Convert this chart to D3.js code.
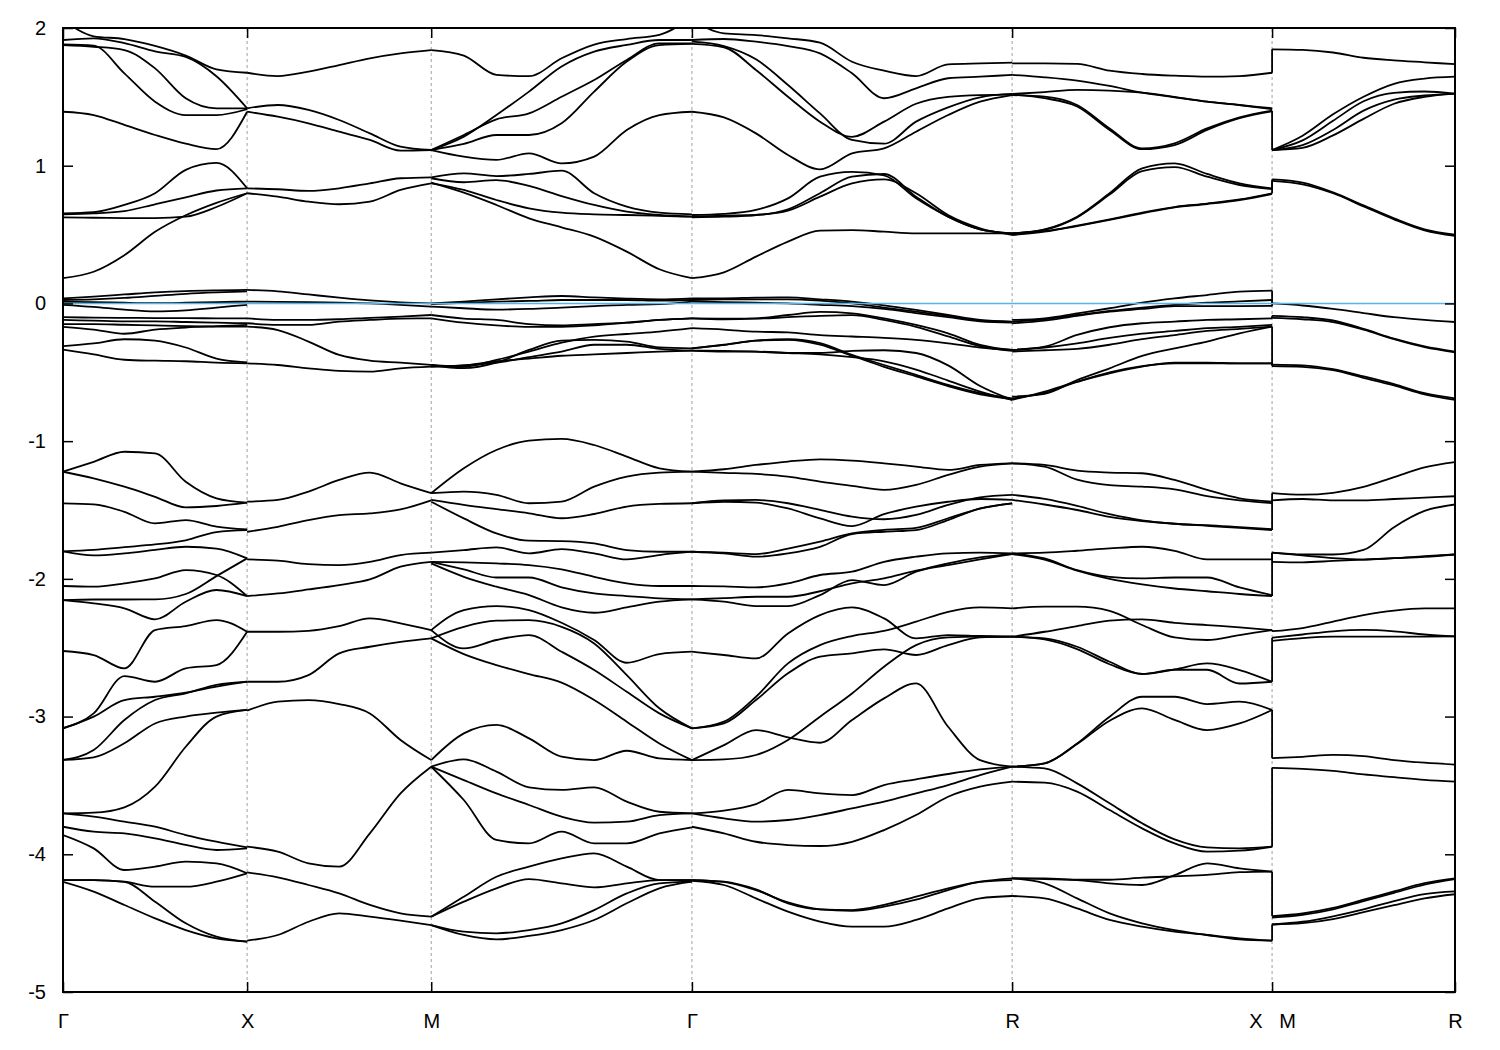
<!DOCTYPE html>
<html><head><meta charset="utf-8">
<script src="https://cdn.jsdelivr.net/npm/d3@7"></script>
<style>
body{margin:0;background:#fff}
svg text{font-family:"Liberation Sans",Arial,sans-serif;fill:#000}
</style>
</head><body>
<svg id="chart" width="1500" height="1050"></svg>
<script>
// k-path: cumulative distances of high-symmetry points (units of Γ–X)
const kNodes  = [0, 1, 2, 3.416, 5.155, 6.567, 7.5605];
const kLabels = ["Γ", "X", "M", "Γ", "R", "X\u00a0\u00a0\u00a0M", "R"];
const yTicks  = [-5, -4, -3, -2, -1, 0, 1, 2];
const fermiLevel = 0;

// Γ → X (7 evenly spaced samples per band)
const bandsGX = [
 [2.06,1.94,1.92,1.87,1.80,1.70,1.675],
 [1.913,1.925,1.89,1.83,1.79,1.65,1.417],
 [1.881,1.872,1.671,1.465,1.368,1.368,1.41],
 [1.876,1.864,1.84,1.707,1.49,1.417,1.417],
 [1.392,1.368,1.296,1.223,1.16,1.12,1.392],
 [0.654,0.662,0.715,0.80,0.97,1.02,0.836],
 [0.647,0.654,0.67,0.72,0.77,0.82,0.836],
 [0.625,0.622,0.62,0.62,0.63,0.70,0.80],
 [0.183,0.23,0.35,0.52,0.64,0.73,0.80],
 [0.037,0.05,0.065,0.08,0.09,0.095,0.098],
 [0.025,0.03,0.04,0.055,0.07,0.08,0.087],
 [0.012,0.01,0.005,0.002,0.005,0.01,0.013],
 [-0.01,-0.025,-0.045,-0.058,-0.05,-0.03,-0.01],
 [-0.10,-0.103,-0.105,-0.106,-0.107,-0.108,-0.108],
 [-0.12,-0.125,-0.13,-0.13,-0.135,-0.14,-0.144],
 [-0.17,-0.19,-0.22,-0.19,-0.175,-0.165,-0.156],
 [-0.15,-0.15,-0.155,-0.16,-0.165,-0.168,-0.168],
 [-0.31,-0.29,-0.26,-0.27,-0.32,-0.40,-0.428],
 [-0.336,-0.37,-0.409,-0.416,-0.42,-0.43,-0.435],
 [-1.222,-1.15,-1.077,-1.089,-1.295,-1.415,-1.447],
 [-1.222,-1.27,-1.331,-1.404,-1.481,-1.471,-1.447],
 [-1.452,-1.459,-1.513,-1.597,-1.573,-1.62,-1.641],
 [-1.80,-1.83,-1.815,-1.79,-1.767,-1.78,-1.851],
 [-1.80,-1.79,-1.77,-1.75,-1.72,-1.66,-1.646],
 [-2.052,-2.057,-2.033,-1.997,-1.936,-1.972,-2.125],
 [-2.154,-2.15,-2.15,-2.149,-2.11,-1.98,-1.851],
 [-2.154,-2.178,-2.214,-2.294,-2.166,-2.081,-2.125],
 [-2.524,-2.553,-2.65,-2.372,-2.343,-2.299,-2.384],
 [-3.085,-2.977,-2.706,-2.747,-2.65,-2.626,-2.384],
 [-3.085,-3.0,-2.88,-2.856,-2.827,-2.783,-2.747],
 [-3.315,-3.243,-3.025,-2.88,-2.831,-2.77,-2.747],
 [-3.315,-3.296,-3.194,-3.05,-3.0,-2.972,-2.952],
 [-3.703,-3.698,-3.659,-3.509,-3.219,-3.0,-2.952],
 [-3.80,-3.836,-3.848,-3.884,-3.932,-3.969,-3.957],
 [-3.703,-3.727,-3.763,-3.80,-3.86,-3.908,-3.95],
 [-3.86,-3.957,-4.114,-4.09,-4.054,-4.066,-4.138],
 [-4.187,-4.187,-4.199,-4.235,-4.235,-4.199,-4.138],
 [-4.187,-4.187,-4.2,-4.344,-4.501,-4.598,-4.634],
 [-4.2,-4.271,-4.368,-4.465,-4.55,-4.61,-4.634]
];

// X → M (7 samples)
const bandsXM = [
 [1.675,1.651,1.683,1.731,1.78,1.816,1.84],
 [1.417,1.441,1.405,1.332,1.235,1.138,1.114],
 [1.392,1.356,1.308,1.247,1.187,1.109,1.114],
 [0.836,0.829,0.817,0.836,0.872,0.909,0.916],
 [0.80,0.775,0.739,0.72,0.739,0.824,0.872],
 [0.098,0.088,0.065,0.042,0.022,0.008,0.0],
 [0.013,0.012,0.01,0.005,0.0,-0.01,-0.023],
 [-0.108,-0.12,-0.12,-0.115,-0.105,-0.096,-0.084],
 [-0.144,-0.156,-0.156,-0.132,-0.12,-0.11,-0.108],
 [-0.168,-0.193,-0.277,-0.374,-0.415,-0.43,-0.447],
 [-0.435,-0.447,-0.471,-0.49,-0.495,-0.471,-0.459],
 [-1.439,-1.427,-1.366,-1.282,-1.228,-1.306,-1.378],
 [-1.658,-1.622,-1.573,-1.537,-1.525,-1.496,-1.43],
 [-1.859,-1.868,-1.893,-1.90,-1.876,-1.827,-1.81],
 [-2.125,-2.106,-2.077,-2.045,-2.004,-1.912,-1.876],
 [-2.384,-2.384,-2.377,-2.343,-2.287,-2.323,-2.372],
 [-2.747,-2.747,-2.699,-2.541,-2.493,-2.457,-2.432],
 [-2.957,-2.892,-2.88,-2.909,-2.977,-3.17,-3.316],
 [-3.945,-3.981,-4.066,-4.09,-3.848,-3.558,-3.364],
 [-4.131,-4.167,-4.223,-4.284,-4.368,-4.429,-4.453],
 [-4.627,-4.586,-4.49,-4.429,-4.453,-4.482,-4.514]
];

// M → Γ (9 samples)
const bandsMG = [
 [1.84,1.80,1.66,1.65,1.78,1.88,1.92,1.95,2.08],
 [1.114,1.211,1.368,1.538,1.72,1.828,1.877,1.913,1.913],
 [1.114,1.223,1.337,1.38,1.501,1.622,1.768,1.889,1.889],
 [1.114,1.158,1.223,1.223,1.308,1.538,1.756,1.876,1.884],
 [1.114,1.066,1.042,1.09,1.017,1.066,1.26,1.368,1.392],
 [0.916,0.945,0.925,0.94,0.964,0.80,0.703,0.659,0.647],
 [0.909,0.88,0.896,0.853,0.78,0.715,0.666,0.642,0.63],
 [0.872,0.824,0.751,0.691,0.659,0.647,0.642,0.636,0.63],
 [0.877,0.804,0.715,0.618,0.553,0.485,0.376,0.248,0.183],
 [0.0,0.013,0.03,0.044,0.054,0.044,0.035,0.03,0.037],
 [-0.004,0.004,0.013,0.018,0.025,0.025,0.025,0.02,0.025],
 [-0.023,-0.035,-0.045,-0.04,-0.03,-0.02,-0.01,-0.005,0.013],
 [-0.084,-0.11,-0.12,-0.15,-0.16,-0.15,-0.14,-0.12,-0.108],
 [-0.108,-0.14,-0.16,-0.17,-0.17,-0.16,-0.14,-0.12,-0.108],
 [-0.447,-0.47,-0.43,-0.338,-0.27,-0.265,-0.277,-0.319,-0.326],
 [-0.447,-0.46,-0.41,-0.35,-0.285,-0.241,-0.222,-0.205,-0.18],
 [-0.459,-0.45,-0.43,-0.39,-0.35,-0.30,-0.30,-0.33,-0.343],
 [-0.459,-0.45,-0.42,-0.40,-0.38,-0.37,-0.36,-0.35,-0.343],
 [-1.378,-1.197,-1.064,-0.996,-0.984,-1.028,-1.112,-1.197,-1.221],
 [-1.378,-1.366,-1.39,-1.451,-1.439,-1.33,-1.257,-1.228,-1.221],
 [-1.427,-1.463,-1.494,-1.524,-1.56,-1.529,-1.475,-1.456,-1.451],
 [-1.44,-1.561,-1.67,-1.723,-1.726,-1.743,-1.791,-1.803,-1.803],
 [-1.81,-1.791,-1.772,-1.815,-1.784,-1.815,-1.859,-1.827,-1.803],
 [-1.876,-1.88,-1.888,-1.9,-1.931,-1.985,-2.033,-2.052,-2.052],
 [-1.876,-1.931,-1.99,-1.99,-2.062,-2.106,-2.125,-2.142,-2.149],
 [-1.888,-1.985,-2.057,-2.118,-2.207,-2.246,-2.207,-2.166,-2.149],
 [-2.372,-2.227,-2.198,-2.227,-2.319,-2.444,-2.609,-2.546,-2.529],
 [-2.432,-2.348,-2.304,-2.3,-2.348,-2.469,-2.699,-2.94,-3.086],
 [-2.372,-2.505,-2.444,-2.408,-2.529,-2.662,-2.82,-2.977,-3.086],
 [-2.432,-2.546,-2.626,-2.691,-2.754,-2.88,-3.037,-3.195,-3.316],
 [-3.316,-3.122,-3.061,-3.158,-3.291,-3.316,-3.248,-3.304,-3.316],
 [-3.364,-3.311,-3.4,-3.514,-3.533,-3.514,-3.618,-3.691,-3.703],
 [-3.364,-3.606,-3.896,-3.921,-3.836,-3.921,-3.921,-3.848,-3.804],
 [-3.364,-3.461,-3.558,-3.642,-3.727,-3.77,-3.763,-3.715,-3.703],
 [-4.453,-4.308,-4.163,-4.09,-4.03,-3.993,-4.09,-4.187,-4.187],
 [-4.453,-4.344,-4.247,-4.18,-4.211,-4.24,-4.211,-4.187,-4.187],
 [-4.514,-4.562,-4.574,-4.55,-4.501,-4.405,-4.284,-4.211,-4.199],
 [-4.514,-4.586,-4.618,-4.593,-4.55,-4.477,-4.356,-4.247,-4.199]
];

// Γ → R (11 samples)
const bandsGR = [
 [2.06,1.961,1.949,1.925,1.893,1.755,1.69,1.651,1.736,1.743,1.748],
 [1.913,1.92,1.901,1.869,1.816,1.671,1.49,1.562,1.635,1.647,1.659],
 [1.901,1.869,1.773,1.586,1.38,1.187,1.16,1.32,1.424,1.497,1.521],
 [1.884,1.86,1.695,1.501,1.32,1.21,1.32,1.45,1.50,1.513,1.516],
 [1.392,1.351,1.235,1.078,0.974,1.09,1.126,1.247,1.368,1.465,1.513],
 [0.642,0.65,0.679,0.763,0.92,0.955,0.93,0.763,0.63,0.538,0.509],
 [0.63,0.637,0.642,0.683,0.80,0.92,0.94,0.775,0.63,0.538,0.509],
 [0.625,0.63,0.642,0.674,0.775,0.872,0.901,0.80,0.642,0.546,0.497],
 [0.183,0.226,0.34,0.449,0.529,0.533,0.521,0.509,0.509,0.509,0.509],
 [0.037,0.037,0.042,0.044,0.03,0.013,-0.014,-0.047,-0.084,-0.12,-0.132],
 [0.025,0.03,0.03,0.03,0.02,0.0,-0.03,-0.06,-0.09,-0.125,-0.135],
 [0.013,0.01,0.005,0.0,-0.01,-0.02,-0.04,-0.07,-0.1,-0.13,-0.14],
 [-0.108,-0.115,-0.108,-0.084,-0.062,-0.072,-0.108,-0.156,-0.217,-0.301,-0.338],
 [-0.108,-0.11,-0.11,-0.10,-0.09,-0.085,-0.12,-0.17,-0.24,-0.31,-0.345],
 [-0.18,-0.19,-0.205,-0.21,-0.23,-0.24,-0.25,-0.265,-0.29,-0.32,-0.338],
 [-0.326,-0.301,-0.27,-0.26,-0.289,-0.374,-0.447,-0.519,-0.592,-0.652,-0.689],
 [-0.326,-0.30,-0.27,-0.265,-0.30,-0.38,-0.46,-0.53,-0.60,-0.66,-0.695],
 [-0.343,-0.345,-0.35,-0.36,-0.36,-0.345,-0.34,-0.36,-0.45,-0.60,-0.70],
 [-0.343,-0.35,-0.35,-0.36,-0.37,-0.39,-0.42,-0.48,-0.56,-0.64,-0.70],
 [-1.221,-1.204,-1.173,-1.148,-1.132,-1.141,-1.161,-1.185,-1.209,-1.173,-1.161],
 [-1.221,-1.23,-1.238,-1.257,-1.294,-1.325,-1.354,-1.318,-1.245,-1.185,-1.161],
 [-1.451,-1.43,-1.427,-1.451,-1.499,-1.548,-1.567,-1.536,-1.463,-1.408,-1.39],
 [-1.451,-1.44,-1.447,-1.489,-1.561,-1.617,-1.53,-1.476,-1.44,-1.42,-1.427],
 [-1.803,-1.815,-1.839,-1.815,-1.767,-1.675,-1.658,-1.646,-1.573,-1.489,-1.452],
 [-1.803,-1.81,-1.82,-1.78,-1.73,-1.67,-1.645,-1.63,-1.56,-1.49,-1.452],
 [-2.052,-2.055,-2.062,-2.033,-1.972,-1.948,-1.876,-1.839,-1.815,-1.81,-1.815],
 [-2.149,-2.166,-2.198,-2.198,-2.118,-2.009,-2.045,-1.948,-1.888,-1.844,-1.82],
 [-2.149,-2.14,-2.13,-2.13,-2.09,-2.033,-1.997,-1.941,-1.9,-1.859,-1.82],
 [-2.529,-2.553,-2.578,-2.396,-2.263,-2.207,-2.287,-2.432,-2.408,-2.415,-2.42],
 [-3.086,-3.037,-2.856,-2.614,-2.481,-2.415,-2.377,-2.311,-2.239,-2.207,-2.215],
 [-3.086,-3.05,-2.88,-2.686,-2.565,-2.541,-2.512,-2.553,-2.481,-2.425,-2.42],
 [-3.316,-3.311,-3.279,-3.17,-3.001,-2.832,-2.638,-2.481,-2.425,-2.42,-2.42],
 [-3.316,-3.207,-3.098,-3.151,-3.19,-3.025,-2.868,-2.759,-3.074,-3.316,-3.364],
 [-3.703,-3.683,-3.635,-3.533,-3.558,-3.57,-3.497,-3.456,-3.417,-3.384,-3.364],
 [-3.703,-3.739,-3.763,-3.751,-3.715,-3.667,-3.618,-3.558,-3.497,-3.425,-3.364],
 [-3.8,-3.848,-3.909,-3.933,-3.94,-3.909,-3.824,-3.715,-3.582,-3.509,-3.473],
 [-4.187,-4.199,-4.255,-4.356,-4.4,-4.405,-4.368,-4.308,-4.247,-4.199,-4.175],
 [-4.187,-4.2,-4.26,-4.35,-4.4,-4.41,-4.38,-4.33,-4.26,-4.2,-4.187],
 [-4.192,-4.223,-4.32,-4.417,-4.489,-4.526,-4.526,-4.477,-4.393,-4.32,-4.303]
];

// R → X (9 samples)
const bandsRX = [
 [1.743,1.743,1.739,1.69,1.666,1.654,1.647,1.651,1.675],
 [1.659,1.642,1.618,1.579,1.53,1.497,1.465,1.441,1.417],
 [1.521,1.535,1.55,1.545,1.53,1.50,1.465,1.44,1.41],
 [1.513,1.501,1.441,1.271,1.126,1.163,1.271,1.351,1.40],
 [1.516,1.49,1.43,1.26,1.12,1.15,1.26,1.345,1.395],
 [0.509,0.538,0.63,0.80,0.981,1.017,0.94,0.872,0.836],
 [0.509,0.535,0.625,0.79,0.96,0.99,0.92,0.86,0.83],
 [0.497,0.521,0.562,0.606,0.654,0.698,0.722,0.751,0.795],
 [0.509,0.525,0.565,0.61,0.66,0.70,0.725,0.755,0.80],
 [-0.12,-0.108,-0.072,-0.035,0.006,0.037,0.061,0.086,0.093],
 [-0.132,-0.115,-0.084,-0.055,-0.03,-0.01,0.005,0.015,0.025],
 [-0.144,-0.125,-0.09,-0.06,-0.04,-0.02,-0.02,-0.02,-0.018],
 [-0.338,-0.314,-0.229,-0.173,-0.144,-0.132,-0.12,-0.115,-0.108],
 [-0.338,-0.32,-0.29,-0.25,-0.22,-0.20,-0.18,-0.17,-0.156],
 [-0.35,-0.34,-0.33,-0.30,-0.26,-0.23,-0.2,-0.185,-0.168],
 [-0.677,-0.657,-0.556,-0.471,-0.381,-0.326,-0.277,-0.217,-0.168],
 [-0.70,-0.64,-0.568,-0.507,-0.459,-0.43,-0.43,-0.435,-0.435],
 [-0.69,-0.65,-0.57,-0.50,-0.455,-0.435,-0.435,-0.435,-0.435],
 [-1.161,-1.173,-1.214,-1.228,-1.233,-1.282,-1.354,-1.415,-1.439],
 [-1.161,-1.185,-1.28,-1.32,-1.33,-1.35,-1.40,-1.43,-1.45],
 [-1.39,-1.42,-1.47,-1.53,-1.575,-1.60,-1.615,-1.63,-1.646],
 [-1.427,-1.46,-1.50,-1.55,-1.58,-1.60,-1.61,-1.625,-1.64],
 [-1.815,-1.81,-1.796,-1.779,-1.767,-1.796,-1.859,-1.859,-1.859],
 [-1.815,-1.852,-1.936,-1.985,-1.997,-1.99,-1.99,-2.062,-2.118],
 [-1.82,-1.86,-1.94,-2.0,-2.04,-2.07,-2.09,-2.11,-2.125],
 [-2.215,-2.202,-2.202,-2.232,-2.335,-2.425,-2.444,-2.408,-2.372],
 [-2.42,-2.384,-2.343,-2.304,-2.294,-2.319,-2.336,-2.352,-2.372],
 [-2.42,-2.432,-2.493,-2.602,-2.691,-2.657,-2.614,-2.662,-2.747],
 [-2.42,-2.44,-2.51,-2.62,-2.69,-2.66,-2.66,-2.76,-2.747],
 [-3.364,-3.34,-3.195,-3.001,-2.856,-2.856,-2.909,-2.892,-2.952],
 [-3.364,-3.34,-3.2,-3.03,-2.94,-3.024,-3.098,-3.05,-2.952],
 [-3.364,-3.376,-3.485,-3.63,-3.775,-3.892,-3.95,-3.957,-3.945],
 [-3.473,-3.48,-3.545,-3.679,-3.812,-3.921,-3.981,-3.974,-3.945],
 [-4.175,-4.175,-4.187,-4.211,-4.223,-4.151,-4.066,-4.102,-4.126],
 [-4.175,-4.18,-4.185,-4.185,-4.17,-4.16,-4.15,-4.13,-4.126],
 [-4.175,-4.211,-4.32,-4.429,-4.501,-4.55,-4.586,-4.618,-4.627],
 [-4.303,-4.32,-4.393,-4.477,-4.526,-4.562,-4.586,-4.61,-4.627]
];

// M → R (7 samples)
const bandsMR = [
 [1.845,1.841,1.822,1.784,1.765,1.751,1.737],
 [1.114,1.218,1.373,1.501,1.595,1.633,1.647],
 [1.114,1.184,1.326,1.468,1.529,1.539,1.524],
 [1.114,1.15,1.26,1.40,1.48,1.51,1.524],
 [1.114,1.13,1.22,1.34,1.45,1.50,1.524],
 [0.901,0.878,0.807,0.712,0.618,0.538,0.50],
 [0.89,0.865,0.80,0.705,0.61,0.53,0.49],
 [0.0,-0.015,-0.04,-0.07,-0.1,-0.12,-0.135],
 [-0.09,-0.10,-0.124,-0.185,-0.256,-0.312,-0.35],
 [-0.105,-0.115,-0.135,-0.19,-0.26,-0.318,-0.355],
 [-0.445,-0.45,-0.478,-0.53,-0.586,-0.652,-0.69],
 [-0.455,-0.46,-0.485,-0.54,-0.595,-0.66,-0.70],
 [-1.378,-1.389,-1.375,-1.332,-1.261,-1.191,-1.153],
 [-1.43,-1.42,-1.43,-1.43,-1.42,-1.41,-1.40],
 [-1.81,-1.823,-1.823,-1.79,-1.625,-1.507,-1.46],
 [-1.81,-1.83,-1.85,-1.86,-1.85,-1.84,-1.823],
 [-1.876,-1.88,-1.87,-1.86,-1.85,-1.835,-1.823],
 [-2.38,-2.357,-2.31,-2.263,-2.23,-2.215,-2.215],
 [-2.428,-2.404,-2.381,-2.371,-2.381,-2.404,-2.418],
 [-2.45,-2.43,-2.42,-2.42,-2.42,-2.42,-2.418],
 [-3.302,-3.292,-3.278,-3.287,-3.316,-3.335,-3.349],
 [-3.372,-3.38,-3.395,-3.42,-3.44,-3.46,-3.473],
 [-4.51,-4.50,-4.47,-4.42,-4.37,-4.32,-4.29],
 [-4.45,-4.43,-4.39,-4.33,-4.27,-4.21,-4.175],
 [-4.46,-4.44,-4.40,-4.34,-4.28,-4.22,-4.18],
 [-4.51,-4.49,-4.45,-4.40,-4.34,-4.29,-4.27]
];

// band energies joined across the X|M break
const jumpAtX = [1.675,1.40,0.836,0.80,0.093,0.013,-0.108,-0.168,-0.435,-1.44,-1.646,-1.859,-2.125,-2.372,-2.747,-2.952,-3.945,-4.126,-4.627];
const jumpAtM = [1.845,1.114,0.90,0.885,0.0,-0.02,-0.09,-0.445,-0.455,-1.378,-1.43,-1.81,-1.81,-2.38,-2.43,-3.302,-3.372,-4.45,-4.51];

const segments = [
  {from: 0, to: 1, bands: bandsGX},
  {from: 1, to: 2, bands: bandsXM},
  {from: 2, to: 3, bands: bandsMG},
  {from: 3, to: 4, bands: bandsGR},
  {from: 4, to: 5, bands: bandsRX},
  {from: 5, to: 6, bands: bandsMR}
];

// ---------- drawing ----------
const W = 1500, H = 1050;
const m = {left: 63, right: 45, top: 28, bottom: 58};
const svg = d3.select("#chart");
const x = d3.scaleLinear().domain([kNodes[0], kNodes[kNodes.length-1]]).range([m.left, W - m.right]);
const y = d3.scaleLinear().domain([-5, 2]).range([H - m.bottom, m.top]);

svg.append("defs").append("clipPath").attr("id", "plotclip")
  .append("rect").attr("x", x.range()[0]).attr("y", y.range()[1])
  .attr("width", x.range()[1] - x.range()[0]).attr("height", y.range()[0] - y.range()[1]);

// dashed vertical separators at interior nodes
svg.append("g").selectAll("line").data(kNodes.slice(1, -1)).join("line")
  .attr("x1", d => x(d)).attr("x2", d => x(d))
  .attr("y1", y(-5)).attr("y2", y(2))
  .attr("stroke", "#a0a0a0").attr("stroke-width", 1).attr("stroke-dasharray", "3,3");

const line = d3.line().x(d => x(d[0])).y(d => y(d[1])).curve(d3.curveMonotoneX);
const bandG = svg.append("g").attr("clip-path", "url(#plotclip)");
segments.forEach(seg => {
  const k0 = kNodes[seg.from], k1 = kNodes[seg.to];
  seg.bands.forEach(vals => {
    const n = vals.length;
    const pts = vals.map((e, i) => [k0 + (k1 - k0) * i / (n - 1), e]);
    bandG.append("path").attr("d", line(pts))
      .attr("fill", "none").attr("stroke", "#000").attr("stroke-width", 1.8)
      .attr("stroke-linejoin", "round");
  });
});
// vertical joins at the X|M break
bandG.append("g").selectAll("line").data(d3.zip(jumpAtX, jumpAtM)).join("line")
  .attr("x1", x(kNodes[5])).attr("x2", x(kNodes[5]))
  .attr("y1", d => y(d[0])).attr("y2", d => y(d[1]))
  .attr("stroke", "#000").attr("stroke-width", 1.8);

// Fermi level
svg.append("line")
  .attr("x1", x.range()[0]).attr("x2", x.range()[1])
  .attr("y1", y(fermiLevel)).attr("y2", y(fermiLevel))
  .attr("stroke", "#56b4e9").attr("stroke-width", 1.6);

// axes
const fs = 20;
const yAxisL = d3.axisLeft(y).tickValues(yTicks).tickSize(-10).tickPadding(17).tickFormat(d => String(d));
const yAxisR = d3.axisRight(y).tickValues(yTicks).tickSize(-10).tickFormat("");
const xAxisB = d3.axisBottom(x).tickValues(kNodes).tickSize(-10).tickPadding(22).tickFormat((d, i) => kLabels[i]);
const xAxisT = d3.axisTop(x).tickValues(kNodes).tickSize(-10).tickFormat("");

function style(g) {
  g.select(".domain").remove();
  g.selectAll(".tick line").attr("stroke", "#000").attr("stroke-width", 1.5);
  g.selectAll("text").attr("font-size", fs).attr("fill", "#000")
    .attr("font-family", '"Liberation Sans", Arial, sans-serif');
}
svg.append("g").attr("transform", `translate(${x.range()[0]},0)`).call(yAxisL).call(style);
svg.append("g").attr("transform", `translate(${x.range()[1]},0)`).call(yAxisR).call(style);
svg.append("g").attr("transform", `translate(0,${y.range()[0]})`).call(xAxisB).call(style);
svg.append("g").attr("transform", `translate(0,${y.range()[1]})`).call(xAxisT).call(style);

// frame
svg.append("rect")
  .attr("x", x.range()[0]).attr("y", y.range()[1])
  .attr("width", x.range()[1] - x.range()[0]).attr("height", y.range()[0] - y.range()[1])
  .attr("fill", "none").attr("stroke", "#000").attr("stroke-width", 2);
</script>
</body></html>
